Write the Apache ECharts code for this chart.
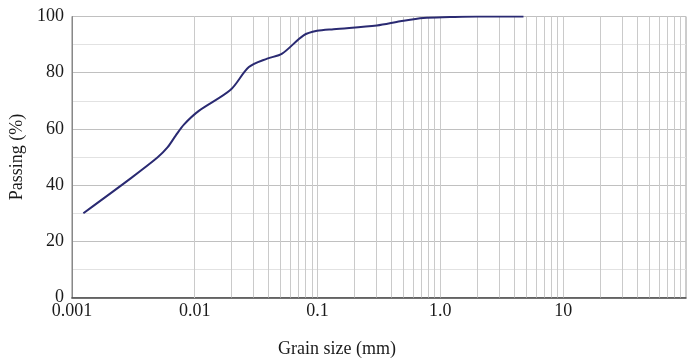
<!DOCTYPE html>
<html>
<head>
<meta charset="utf-8">
<script src="https://cdn.jsdelivr.net/npm/echarts@6/dist/echarts.min.js"></script>
<style>html,body{margin:0;padding:0;background:#fff}#c{width:692px;height:360px}</style>
</head>
<body>
<div id="c"></div>
<script>
// Grain size (mm)
const grainSize = [0.00124, 0.00301, 0.00497, 0.0060, 0.0070, 0.0082, 0.0108, 0.0196, 0.0276, 0.0389, 0.0515, 0.077, 0.099, 0.135, 0.304, 0.471, 0.728, 1.2, 2.0, 4.75];
// Passing (%)
const passing = [30, 42.4, 49.8, 53.4, 57.6, 61.6, 66.4, 73.9, 82.0, 85.0, 86.8, 93.3, 94.9, 95.5, 96.8, 98.3, 99.5, 99.8, 100, 100];
const xTickLabels = ['0.001', '0.01', '0.1', '1.0', '10', ''];
const yTickLabels = ['0', '20', '40', '60', '80', '100'];
const xDecades = [0.001, 0.01, 0.1, 1, 10];

const FONT = '"Liberation Serif", "Times New Roman", serif';

// log-grid lines (2..9 within every decade and the decade lines themselves)
const vLines = [];
xDecades.forEach(d => { for (let k = 1; k <= 9; k++) { if (!(d === 0.001 && k === 1)) vLines.push({ xAxis: d * k }); } });

const chart = echarts.init(document.getElementById('c'), null, { renderer: 'canvas' });
chart.setOption({
  animation: false,
  backgroundColor: '#fff',
  title: {
    text: 'Grain size (mm)',
    left: 273, top: 335,
    textStyle: { fontFamily: FONT, fontSize: 18, fontWeight: 'normal', color: '#1a1a1a' }
  },
  grid: { left: 71, right: 6, top: 16.5, bottom: 62.5, show: true, borderColor: '#9a9a9a', borderWidth: 1 },
  xAxis: {
    type: 'log', logBase: 10, min: 0.001, max: 100,
    axisLine: { show: true, lineStyle: { color: '#444', width: 1.5 } },
    axisTick: { show: false },
    splitLine: { show: false },
    axisLabel: {
      fontFamily: FONT, fontSize: 18, color: '#1a1a1a', margin: 5,
      formatter: v => xTickLabels[Math.round(Math.log10(v) + 3)] ?? ''
    }
  },
  yAxis: {
    type: 'value', min: 0, max: 100, interval: 20,
    name: 'Passing (%)', nameLocation: 'middle', nameGap: 39, nameRotate: 90,
    nameTextStyle: { fontFamily: FONT, fontSize: 18, color: '#1a1a1a' },
    axisLine: { show: true, lineStyle: { color: '#888', width: 1 } },
    axisTick: { show: false },
    axisLabel: {
      fontFamily: FONT, fontSize: 18, color: '#1a1a1a', margin: 8,
      formatter: v => yTickLabels[Math.round(v / 20)]
    },
    splitLine: { show: true, lineStyle: { color: '#c0c0c0', width: 1 } },
    minorTick: { show: false, splitNumber: 2 },
    minorSplitLine: { show: true, lineStyle: { color: '#e2e2e2', width: 1 } }
  },
  series: [
    {
      type: 'line', silent: true, data: [], z: 1,
      markLine: {
        silent: true, symbol: 'none', animation: false,
        label: { show: false },
        lineStyle: { color: '#cacaca', width: 1, type: 'solid' },
        data: vLines
      }
    },
    {
      type: 'line', z: 5,
      data: grainSize.map((g, i) => [g, passing[i]]),
      smooth: 0.3,
      showSymbol: false,
      lineStyle: { color: '#2a2a72', width: 2 }
    }
  ]
});
</script>
</body>
</html>
